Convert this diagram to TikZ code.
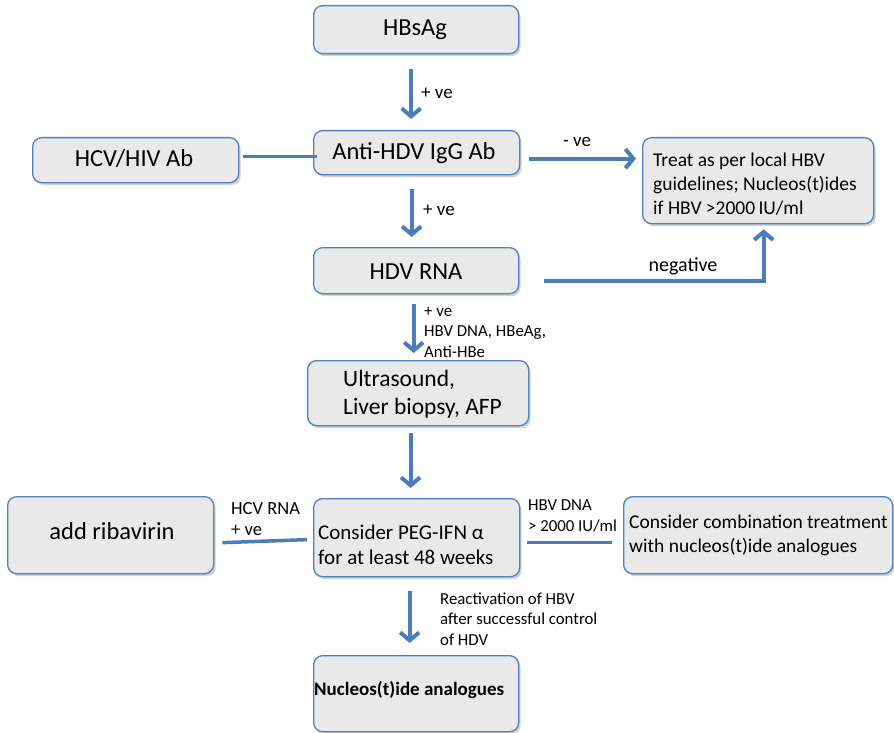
\documentclass[tikz,border=0pt]{standalone}
\usepackage{fontspec}
\setmainfont{Carlito}
\usetikzlibrary{arrows.meta,shadows}
\definecolor{boxblue}{RGB}{79,129,189}
\definecolor{arrblue}{RGB}{74,126,187}
\definecolor{boxfill}{RGB}{233,233,233}
\tikzset{
  box/.style={draw=boxblue, line width=1.3pt, fill=boxfill, rounded corners=9pt,
    drop shadow={shadow xshift=2pt, shadow yshift=-2.5pt, fill=black!40, opacity=0.45},
    inner sep=0pt, anchor=north west},
  bigtxt/.style={font=\fontsize{24.5}{28}\selectfont, inner sep=0pt},
  midtxt/.style={font=\fontsize{19.5}{24}\selectfont, inner sep=0pt, align=left},
  lbl/.style={font=\fontsize{19}{22}\selectfont, inner sep=0pt, align=left},
  smalllbl/.style={font=\fontsize{16.8}{20.5}\selectfont, inner sep=0pt, align=left},
  arr/.style={draw=arrblue, line width=4pt, -{Straight Barb[length=8pt,width=19pt]}},
  conn/.style={draw=arrblue, line width=3.5pt},
}
\begin{document}
\begin{tikzpicture}[x=1pt,y=-1pt]
\useasboundingbox (0,0) rectangle (894,733);
% boxes
\node[box, minimum width=205pt, minimum height=48pt] (hbs) at (313,5) {};
\node[box, minimum width=206pt, minimum height=45pt] (hcv) at (32,137) {};
\node[box, minimum width=206pt, minimum height=44pt] (anti) at (313,130) {};
\node[box, minimum width=231pt, minimum height=86pt] (treat) at (642,137) {};
\node[box, minimum width=205pt, minimum height=46pt] (hdv) at (313,247) {};
\node[box, minimum width=221pt, minimum height=65pt] (ultra) at (307,360) {};
\node[box, minimum width=206pt, minimum height=77pt] (rib) at (7,496) {};
\node[box, minimum width=206pt, minimum height=78pt] (peg) at (313,498) {};
\node[box, minimum width=269pt, minimum height=77pt] (comb) at (623,496) {};
\node[box, minimum width=205pt, minimum height=76pt] (nuc) at (313,655) {};
% box texts
\node[bigtxt] (thbs) at (415,30) {HBsAg};
\node[bigtxt] (thcv) at (134,159) {HCV/HIV Ab};
\node[bigtxt] (tanti) at (414,153) {Anti-HDV IgG Ab};
\node[midtxt, anchor=west] (ttreat) at (653,184) {Treat as per local HBV\\guidelines; Nucleos(t)ides\\if HBV >2000\,IU/ml};
\node[bigtxt] (thdv) at (416,272) {HDV RNA};
\node[bigtxt, font=\fontsize{23.5}{28}\selectfont, align=left, anchor=west] (tultra) at (343,394) {Ultrasound,\\Liver biopsy, AFP};
\node[bigtxt] (trib) at (112,531) {add ribavirin};
\node[font=\fontsize{21}{24.5}\selectfont, inner sep=0pt, align=left, anchor=west] (tpeg) at (318,545) {Consider PEG-IFN α\\for at least 48 weeks};
\node[midtxt, anchor=west] (tcomb) at (629,535) {Consider combination treatment\\with nucleos(t)ide analogues};
\node[font=\bfseries\fontsize{19}{22}\selectfont, inner sep=0pt, anchor=west] (tnuc) at (314,690) {Nucleos(t)ide analogues};
% connectors
\draw[arr, shorten <=15pt, shorten >=11pt] ([xshift=-5pt]hbs.south) -- ([xshift=-5pt]hbs.south |- anti.north);
\draw[arr, shorten <=14pt, shorten >=10pt] ([xshift=-5pt]anti.south) -- ([xshift=-5pt]anti.south |- hdv.north);
\draw[arr, shorten <=10pt, shorten >=7pt] ([xshift=-2.5pt]hdv.south) -- ([xshift=-2.5pt]hdv.south |- ultra.north);
\draw[arr, shorten <=7pt, shorten >=10pt] ([xshift=-7.5pt]ultra.south) -- ([xshift=-7.5pt]ultra.south |- peg.north);
\draw[arr, shorten <=14pt, shorten >=12pt] ([xshift=-7pt]peg.south) -- ([xshift=-7pt]peg.south |- nuc.north);
\draw[conn] ([xshift=4pt,yshift=3.5pt]hcv.east) -- ([xshift=4pt,yshift=3.5pt]hcv.east -| anti.west);
\draw[arr, shorten >=15pt] ([xshift=9pt,yshift=-6pt]anti.east) -- ([xshift=9pt,yshift=-6pt]anti.east -| treat.west);
\draw[arr, shorten >=5pt] ([xshift=25pt,yshift=-10pt]hdv.east) -| ([xshift=5.5pt]treat.south);
\draw[conn] ([xshift=-6pt,yshift=-2pt]peg.west) -- ([xshift=8pt,yshift=-7.5pt]rib.east);
\draw[conn] ([xshift=7pt,yshift=-5pt]peg.east) -- ([xshift=-11pt,yshift=-5pt]peg.east -| comb.west);
% labels
\node[lbl, anchor=west] (l1) at (421,93) {+ ve};
\node[lbl, anchor=west] (l2) at (423,210) {+ ve};
\node[lbl] (l3) at (577,142) {- ve};
\node[lbl, font=\fontsize{20}{22}\selectfont] (l4) at (683,266) {negative};
\node[smalllbl, anchor=west] (l5) at (424,332) {+ ve\\HBV DNA, HBeAg,\\Anti-HBe};
\node[lbl, font=\fontsize{18.5}{21.5}\selectfont, anchor=west] (l6) at (231,519) {HCV RNA\\+ ve};
\node[smalllbl, anchor=west] (l7) at (528,516) {HBV DNA\\> 2000 IU/ml};
\node[smalllbl, anchor=west] (l8) at (440,619) {Reactivation of HBV\\after successful control\\of HDV};
\end{tikzpicture}
\end{document}
